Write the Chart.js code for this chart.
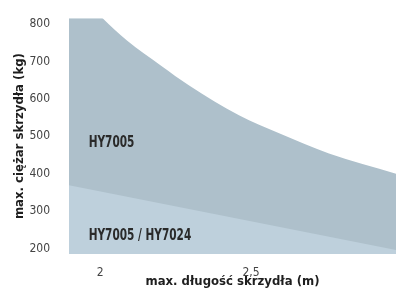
<!DOCTYPE html>
<html>
<head>
<meta charset="utf-8">
<script src="https://cdn.jsdelivr.net/npm/chart.js@4/dist/chart.umd.min.js"></script>
<style>
  html, body { margin: 0; padding: 0; background: #fff; }
  #wrap { width: 396px; height: 295px; }
</style>
</head>
<body>
<div id="wrap"><canvas id="myChart"></canvas></div>
<script>
// upper limit (HY7005)
var upperX = [1.897, 2.007, 2.089, 2.202, 2.295, 2.46, 2.593, 2.758, 2.98];
var upperY = [910, 817, 756, 689, 636, 556, 508, 454, 400];
// lower limit (HY7005 / HY7024)
var lowerX = [1.897, 2.98];
var lowerY = [369, 196];
var xTicks = [2, 2.5];
var yTicks = [200, 300, 400, 500, 600, 700, 800];
var areaLabels = ['HY7005', 'HY7005 / HY7024'];
var labelPos = [[1.962, 482], [1.962, 233]];

var fontFam = "'Liberation Sans Narrow', 'DejaVu Sans Condensed', 'DejaVu Sans', sans-serif";

function pts(xs, ys) {
    var out = [];
    for (var i = 0; i < xs.length; i++) out.push({x: xs[i], y: ys[i]});
    return out;
}

// area names, drawn a bit condensed like the original
var areaText = {
    id: 'areaText',
    afterDatasetsDraw: function(chart) {
        var ctx = chart.ctx;
        var sx = 0.78;
        ctx.save();
        ctx.fillStyle = '#2a2a2a';
        ctx.font = 'bold 15px ' + fontFam;
        ctx.textBaseline = 'middle';
        ctx.scale(sx, 1);
        for (var i = 0; i < areaLabels.length; i++) {
            var px = chart.scales.x.getPixelForValue(labelPos[i][0]);
            var py = chart.scales.y.getPixelForValue(labelPos[i][1]);
            ctx.fillText(areaLabels[i], px / sx, py);
        }
        ctx.restore();
    }
};

document.addEventListener('DOMContentLoaded', function(){
    var data = {
        datasets: [{
            label: areaLabels[1],
            data: pts(lowerX, lowerY),
            backgroundColor: '#bed0dc',
            borderWidth: 0,
            pointRadius: 0,
            fill: 'start'
        }, {
            label: areaLabels[0],
            data: pts(upperX, upperY),
            backgroundColor: '#aec0cb',
            borderWidth: 0,
            pointRadius: 0,
            cubicInterpolationMode: 'monotone',
            fill: 'start'
        }]
    };
    var options = {
        responsive: true,
        maintainAspectRatio: false,
        animation: false,
        layout: { padding: { top: 17, right: 0, left: 0, bottom: 6 } },
        plugins: { legend: { display: false }, tooltip: { enabled: false } },
        scales: {
            x: {
                type: 'linear',
                min: 1.897,
                max: 2.98,
                grid: { display: false },
                border: { display: false },
                afterBuildTicks: function(s) { s.ticks = xTicks.map(function(v){ return {value: v}; }); },
                afterFit: function(s) { s.height = 35; },
                ticks: {
                    padding: 4,
                    color: '#444',
                    font: { family: fontFam, size: 12 },
                    callback: function(v) { return String(v).replace('.', ','); }
                },
                title: {
                    display: true,
                    text: 'max. długość skrzydła (m)',
                    color: '#1e1e1e',
                    padding: { top: 0, bottom: 0 },
                    font: { family: fontFam, size: 13, weight: 'bold' }
                }
            },
            y: {
                min: 185,
                max: 816,
                grid: { display: false },
                border: { display: false },
                afterBuildTicks: function(s) { s.ticks = yTicks.map(function(v){ return {value: v}; }); },
                afterFit: function(s) { s.width = 69; },
                ticks: {
                    padding: 11,
                    color: '#444',
                    font: { family: fontFam, size: 12 }
                },
                title: {
                    display: true,
                    text: 'max. ciężar skrzydła (kg)',
                    color: '#1e1e1e',
                    padding: { top: 12, bottom: 0 },
                    font: { family: fontFam, size: 13, weight: 'bold' }
                }
            }
        }
    };

    var ctx = document.getElementById('myChart').getContext('2d');
    var myChart = new Chart(ctx, {
        type: 'line',
        data: data,
        options: options,
        plugins: [areaText]
    });
});
</script>
</body>
</html>
